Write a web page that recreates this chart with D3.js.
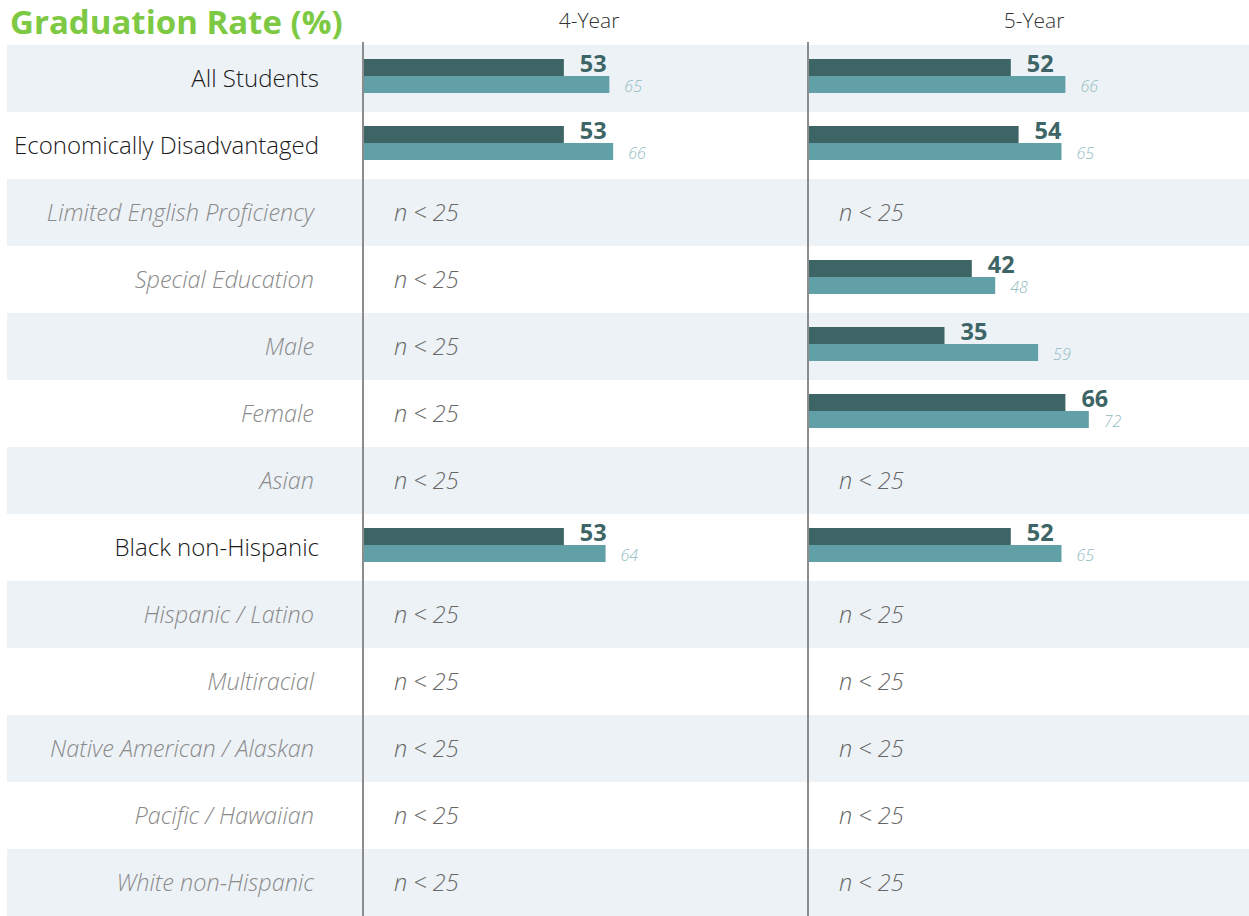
<!DOCTYPE html>
<html><head><meta charset="utf-8">
<script src="https://cdn.jsdelivr.net/npm/d3@7"></script>
<style>body{margin:0;background:#fff;} svg{display:block;font-family:"Open Sans",sans-serif;}</style>
</head><body>
<svg id="c" width="1249" height="916"></svg>
<script>
const categories = ["All Students","Economically Disadvantaged","Limited English Proficiency","Special Education","Male","Female","Asian","Black non-Hispanic","Hispanic / Latino","Multiracial","Native American / Alaskan","Pacific / Hawaiian","White non-Hispanic"];
const reported = [true,true,false,false,false,false,false,true,false,false,false,false,false];
const panels = ["4-Year","5-Year"];
const school4 = [53,53,null,null,null,null,null,53,null,null,null,null,null];
const state4  = [65,66,null,null,null,null,null,64,null,null,null,null,null];
const school5 = [52,54,null,42,35,66,null,52,null,null,null,null,null];
const state5  = [66,65,null,48,59,72,null,65,null,null,null,null,null];
const suppressedText = "n < 25";

const svg = d3.select("#c");
const W = 1249, H = 916;
const y = d3.scaleBand().domain(categories).range([45, 916]).paddingInner(0);
const panelX = [363, 808];
const xs = [d3.scaleLinear().domain([0,100]).range([363, 363+379]),
            d3.scaleLinear().domain([0,100]).range([808, 808+390])];
const dark = "#3e6566", light = "#61a0a6";

// row backgrounds
svg.selectAll("rect.bg").data(categories).join("rect")
  .attr("x", 7).attr("width", W-7)
  .attr("y", d => y(d)).attr("height", y.bandwidth())
  .attr("fill", (d,i) => i%2===0 ? "#edf2f7" : "#ffffff");

// title
svg.append("text").attr("x", 10).attr("y", 34)
  .attr("font-size", 33).attr("font-weight", 700).attr("fill", "#7dc943")
  .text("Graduation Rate (%)");

// headers
panels.forEach((p,i) => {
  svg.append("text").attr("x", panelX[i] + 226).attr("y", 28)
    .attr("text-anchor","middle").attr("font-size", 21).attr("font-weight", 300).attr("fill","#333")
    .text(p);
});

// category labels
svg.selectAll("text.cat").data(categories).join("text")
  .attr("x", (d,i) => reported[i] ? 319 : 314)
  .attr("y", d => y(d) + y.bandwidth()/2 + 8)
  .attr("text-anchor","end").attr("font-weight", 300)
  .attr("font-size", (d,i) => reported[i] ? 24 : 23.5)
  .attr("font-style", (d,i) => reported[i] ? "normal" : "italic")
  .attr("fill", (d,i) => reported[i] ? "#1a1a1a" : "#8a8a8a")
  .text(d => d);

const data = [[school4,state4],[school5,state5]];
data.forEach(([sch, st], pi) => {
  const x = xs[pi];
  const g = svg.append("g");
  categories.forEach((c,i) => {
    const top = y(c) + 14;
    if (sch[i] == null) {
      g.append("text").attr("x", panelX[pi] + 31).attr("y", y(c) + y.bandwidth()/2 + 8)
        .attr("font-size", 23.5).attr("font-weight", 300).attr("font-style","italic").attr("fill","#666")
        .text(suppressedText);
      return;
    }
    g.append("rect").attr("x", x(0)).attr("y", top).attr("width", x(sch[i]) - x(0)).attr("height", 17).attr("fill", dark);
    g.append("rect").attr("x", x(0)).attr("y", top+17).attr("width", x(st[i]) - x(0)).attr("height", 17).attr("fill", light);
    g.append("text").attr("x", x(sch[i]) + 16).attr("y", top + 13)
      .attr("font-size", 23.5).attr("font-weight", 700).attr("fill", dark).text(sch[i]);
    g.append("text").attr("x", x(st[i]) + 15).attr("y", top + 33)
      .attr("font-size", 16).attr("font-weight", 300).attr("font-style","italic").attr("fill", "#8fbcc0").text(st[i]);
  });
  svg.append("line").attr("x1", panelX[pi]).attr("x2", panelX[pi]).attr("y1", 42).attr("y2", H)
    .attr("stroke", "#8c8c8c").attr("stroke-width", 2);
});
</script>
</body></html>
